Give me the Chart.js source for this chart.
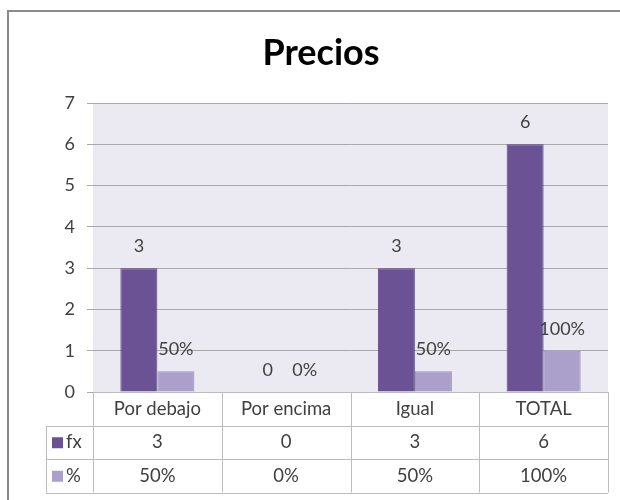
<!DOCTYPE html>
<html>
<head>
<meta charset="utf-8">
<script src="https://cdn.jsdelivr.net/npm/chart.js@4.4.0/dist/chart.umd.min.js"></script>
<style>
  html, body { margin: 0; padding: 0; background: #fff; overflow: hidden; }
  canvas { display: block; }
</style>
</head>
<body>
<canvas id="chart" width="620" height="500"></canvas>
<script>
const categories = ['Por debajo', 'Por encima', 'Igual', 'TOTAL'];
const fxValues = [3, 0, 3, 6];
const pctValues = [0.5, 0, 0.5, 1];
const fxLabels = ['3', '0', '3', '6'];
const pctLabels = ['50%', '0%', '50%', '100%'];
const seriesNames = ['fx', '%'];
const chartTitle = 'Precios';
const yMax = 7;

const FONT = 'Lato, "Open Sans", sans-serif';
const darkPurple = '#6a5294';
const lightPurple = '#ab9fcb';

const chartDecor = {
    id: 'chartDecor',
    beforeDraw(chart) {
        const ctx = chart.ctx;
        const ca = chart.chartArea;
        ctx.save();
        ctx.fillStyle = '#fff';
        ctx.fillRect(0, 0, chart.width, chart.height);
        ctx.fillStyle = '#ebe9f1';
        ctx.fillRect(ca.left, ca.top, ca.right - ca.left, ca.bottom - ca.top);
        ctx.restore();
    },
    afterDatasetsDraw(chart) {
        const ctx = chart.ctx;
        const labelSets = [fxLabels, pctLabels];
        ctx.save();
        ctx.font = '18px ' + FONT;
        ctx.fillStyle = '#404040';
        ctx.textAlign = 'center';
        ctx.textBaseline = 'middle';
        labelSets.forEach((labels, i) => {
            chart.getDatasetMeta(i).data.forEach((bar, j) => {
                ctx.fillText(labels[j], bar.x, bar.y - 22);
            });
        });
        ctx.restore();
    },
    afterDraw(chart) {
        const ctx = chart.ctx;
        const ca = chart.chartArea;
        const xs = chart.scales.x;
        const rowH = 33.5;
        const legendLeft = 46;
        const colW = (ca.right - ca.left) / categories.length;
        const top = ca.bottom;
        const bottom = top + rowH * 3;

        ctx.save();
        // title
        ctx.font = 'bold 36px ' + FONT;
        ctx.fillStyle = '#000';
        ctx.textAlign = 'center';
        ctx.textBaseline = 'middle';
        ctx.fillText(chartTitle, 321, 53);

        ctx.strokeStyle = '#bcbcbc';
        ctx.lineWidth = 1;
        ctx.beginPath();
        // horizontal lines
        ctx.moveTo(ca.left, top + 0.5);
        ctx.lineTo(ca.right, top + 0.5);
        for (let r = 1; r <= 3; r++) {
            const y = Math.round(top + r * rowH) + 0.5;
            ctx.moveTo(legendLeft, y);
            ctx.lineTo(ca.right, y);
        }
        // vertical lines
        ctx.moveTo(legendLeft + 0.5, Math.round(top + rowH));
        ctx.lineTo(legendLeft + 0.5, bottom);
        for (let i = 0; i <= categories.length; i++) {
            const x = Math.round(ca.left + i * colW) + 0.5;
            ctx.moveTo(x, top);
            ctx.lineTo(x, bottom);
        }
        ctx.stroke();

        ctx.font = '18.5px ' + FONT;
        ctx.fillStyle = '#404040';
        ctx.textAlign = 'center';
        ctx.textBaseline = 'middle';
        categories.forEach((c, i) => {
            const cx = xs.getPixelForValue(i);
            ctx.fillText(c, cx, top + rowH * 0.5);
            ctx.fillText(fxLabels[i], cx, top + rowH * 1.5);
            ctx.fillText(pctLabels[i], cx, top + rowH * 2.5);
        });

        // legend keys
        const keyColors = [darkPurple, lightPurple];
        ctx.textAlign = 'left';
        seriesNames.forEach((name, i) => {
            const cy = top + rowH * (1.5 + i);
            ctx.fillStyle = keyColors[i];
            ctx.fillRect(52, cy - 5, 11, 11);
            ctx.fillStyle = '#404040';
            ctx.fillText(name, 66, cy);
        });

        // outer frame, left edge and top edge
        ctx.strokeStyle = '#8a8a8a';
        ctx.lineWidth = 2;
        ctx.beginPath();
        ctx.moveTo(8, chart.height);
        ctx.lineTo(8, 11);
        ctx.lineTo(chart.width, 11);
        ctx.stroke();
        ctx.restore();
    }
};

const ctx = document.getElementById('chart');

new Chart(ctx, {
    type: 'bar',
    data: {
        labels: categories,
        datasets: [{
            label: seriesNames[0],
            data: fxValues,
            backgroundColor: darkPurple,
            borderColor: '#5f4888',
            borderWidth: 1
        }, {
            label: seriesNames[1],
            data: pctValues,
            backgroundColor: lightPurple,
            borderColor: '#9a8dbd',
            borderWidth: 1
        }]
    },
    options: {
        responsive: false,
        animation: false,
        layout: {
            padding: { left: 0, right: 12, top: 103, bottom: 108 }
        },
        barPercentage: 1,
        categoryPercentage: 0.575,
        scales: {
            x: {
                display: false
            },
            y: {
                min: 0,
                max: yMax,
                afterFit(scale) { scale.width = 93; },
                ticks: {
                    stepSize: 1,
                    padding: 12,
                    color: '#404040',
                    font: { family: FONT, size: 18 }
                },
                grid: {
                    color: '#a9a9a9',
                    tickLength: 6
                },
                border: { display: false }
            }
        },
        plugins: {
            legend: { display: false },
            tooltip: { enabled: false },
            title: { display: false }
        }
    },
    plugins: [chartDecor]
});
</script>
</body>
</html>
